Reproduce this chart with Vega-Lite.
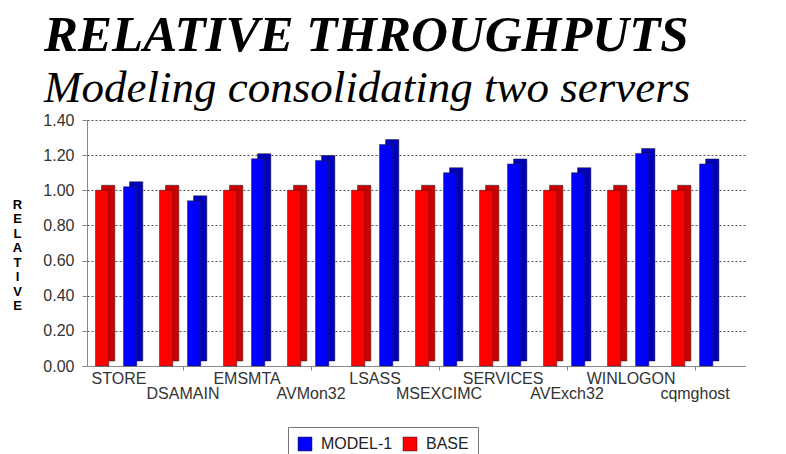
{
  "$schema": "https://vega.github.io/schema/vega-lite/v6.json",
  "autosize": "none",
  "width": 658,
  "height": 246,
  "padding": {"left": 87, "top": 120, "right": 41, "bottom": 88},
  "background": "white",
  "title": {
    "text": "RELATIVE THROUGHPUTS",
    "subtitle": "Modeling consolidating two servers",
    "anchor": "start",
    "frame": "group",
    "dx": -43,
    "offset": 0,
    "font": "Liberation Serif",
    "fontSize": 51,
    "fontStyle": "italic",
    "fontWeight": "bold",
    "color": "black",
    "subtitleFont": "Liberation Serif",
    "subtitleFontSize": 45,
    "subtitleFontStyle": "italic",
    "subtitleColor": "black",
    "subtitlePadding": 4
  },
  "data": {
    "values": [
      {"process": "STORE", "series": "BASE", "value": 1.00},
      {"process": "STORE", "series": "MODEL-1", "value": 1.02},
      {"process": "DSAMAIN", "series": "BASE", "value": 1.00},
      {"process": "DSAMAIN", "series": "MODEL-1", "value": 0.94},
      {"process": "EMSMTA", "series": "BASE", "value": 1.00},
      {"process": "EMSMTA", "series": "MODEL-1", "value": 1.18},
      {"process": "AVMon32", "series": "BASE", "value": 1.00},
      {"process": "AVMon32", "series": "MODEL-1", "value": 1.17},
      {"process": "LSASS", "series": "BASE", "value": 1.00},
      {"process": "LSASS", "series": "MODEL-1", "value": 1.26},
      {"process": "MSEXCIMC", "series": "BASE", "value": 1.00},
      {"process": "MSEXCIMC", "series": "MODEL-1", "value": 1.10},
      {"process": "SERVICES", "series": "BASE", "value": 1.00},
      {"process": "SERVICES", "series": "MODEL-1", "value": 1.15},
      {"process": "AVExch32", "series": "BASE", "value": 1.00},
      {"process": "AVExch32", "series": "MODEL-1", "value": 1.10},
      {"process": "WINLOGON", "series": "BASE", "value": 1.00},
      {"process": "WINLOGON", "series": "MODEL-1", "value": 1.21},
      {"process": "cqmghost", "series": "BASE", "value": 1.00},
      {"process": "cqmghost", "series": "MODEL-1", "value": 1.15}
    ]
  },
  "encoding": {
    "x": {
      "field": "process",
      "type": "nominal",
      "sort": null,
      "scale": {"paddingInner": 0, "paddingOuter": 0.14, "align": 0},
      "axis": {
        "title": null,
        "labelAngle": 0,
        "labelOverlap": false,
        "labelBound": false,
        "labelFont": "Liberation Sans",
        "labelFontSize": 16,
        "labelColor": "#333333",
        "labelPadding": 0,
        "labelLineHeight": 15,
        "labelExpr": "indexof(['DSAMAIN','AVMon32','MSEXCIMC','AVExch32','cqmghost'], datum.value) >= 0 ? ['', datum.value] : datum.value",
        "tickSize": 4,
        "tickColor": {
          "condition": {"test": "indexof(['DSAMAIN','AVMon32','MSEXCIMC','AVExch32','cqmghost'], datum.value) >= 0", "value": "#888888"},
          "value": "transparent"
        },
        "domainColor": "#888888"
      }
    },
    "y": {
      "field": "value",
      "type": "quantitative",
      "scale": {"domain": [0, 1.4], "nice": false},
      "axis": {
        "values": [0, 0.2, 0.4, 0.6, 0.8, 1.0, 1.2, 1.4],
        "format": ".2f",
        "title": ["R", "E", "L", "A", "T", "I", "V", "E"],
        "titleAngle": 0,
        "titleFont": "Liberation Sans",
        "titleFontSize": 13,
        "titleFontWeight": "bold",
        "titleLineHeight": 14.5,
        "titleX": -70,
        "titleY": 78,
        "titleAlign": "center",
        "titleBaseline": "top",
        "labelFont": "Liberation Sans",
        "labelFontSize": 16,
        "labelColor": "#333333",
        "labelPadding": 8,
        "tickSize": 5,
        "tickColor": "#888888",
        "domainColor": "#888888",
        "grid": true,
        "gridColor": "#555555",
        "gridDash": [2, 2],
        "gridWidth": 1
      }
    }
  },
  "layer": [
    {
      "mark": {"type": "bar", "yOffset": -5, "stroke": "#222222", "strokeWidth": 0.5},
      "encoding": {
        "xOffset": {
          "field": "series",
          "type": "nominal",
          "sort": ["BASE", "MODEL-1"],
          "scale": {"paddingInner": 0.525, "paddingOuter": 0.405, "align": 0.64}
        },
        "fill": {
          "condition": {"test": "datum.series === 'BASE'", "value": "#cc0000"},
          "value": "#0000b8"
        }
      }
    },
    {
      "mark": {"type": "bar", "stroke": "#222222", "strokeWidth": 0.5},
      "encoding": {
        "xOffset": {
          "field": "series",
          "type": "nominal",
          "sort": ["BASE", "MODEL-1"],
          "scale": {"paddingInner": 0.525, "paddingOuter": 0.405, "align": 0.374}
        },
        "color": {
          "field": "series",
          "type": "nominal",
          "scale": {"domain": ["MODEL-1", "BASE"], "range": ["#0000ff", "#ff0000"]},
          "legend": {
            "title": null,
            "orient": "none",
            "direction": "horizontal",
            "legendX": 201,
            "legendY": 307,
            "gridAlign": "all",
            "columns": 2,
            "symbolType": "square",
            "symbolSize": 196,
            "symbolStrokeColor": "#222222",
            "symbolStrokeWidth": 0.5,
            "labelFont": "Liberation Sans",
            "labelFontSize": 16,
            "labelColor": "#222222",
            "labelOffset": 8,
            "columnPadding": 9,
            "strokeColor": "#777777",
            "fillColor": "white",
            "padding": 9
          }
        }
      }
    }
  ],
  "resolve": {"scale": {"xOffset": "independent"}},
  "config": {
    "view": {"stroke": null}
  }
}
